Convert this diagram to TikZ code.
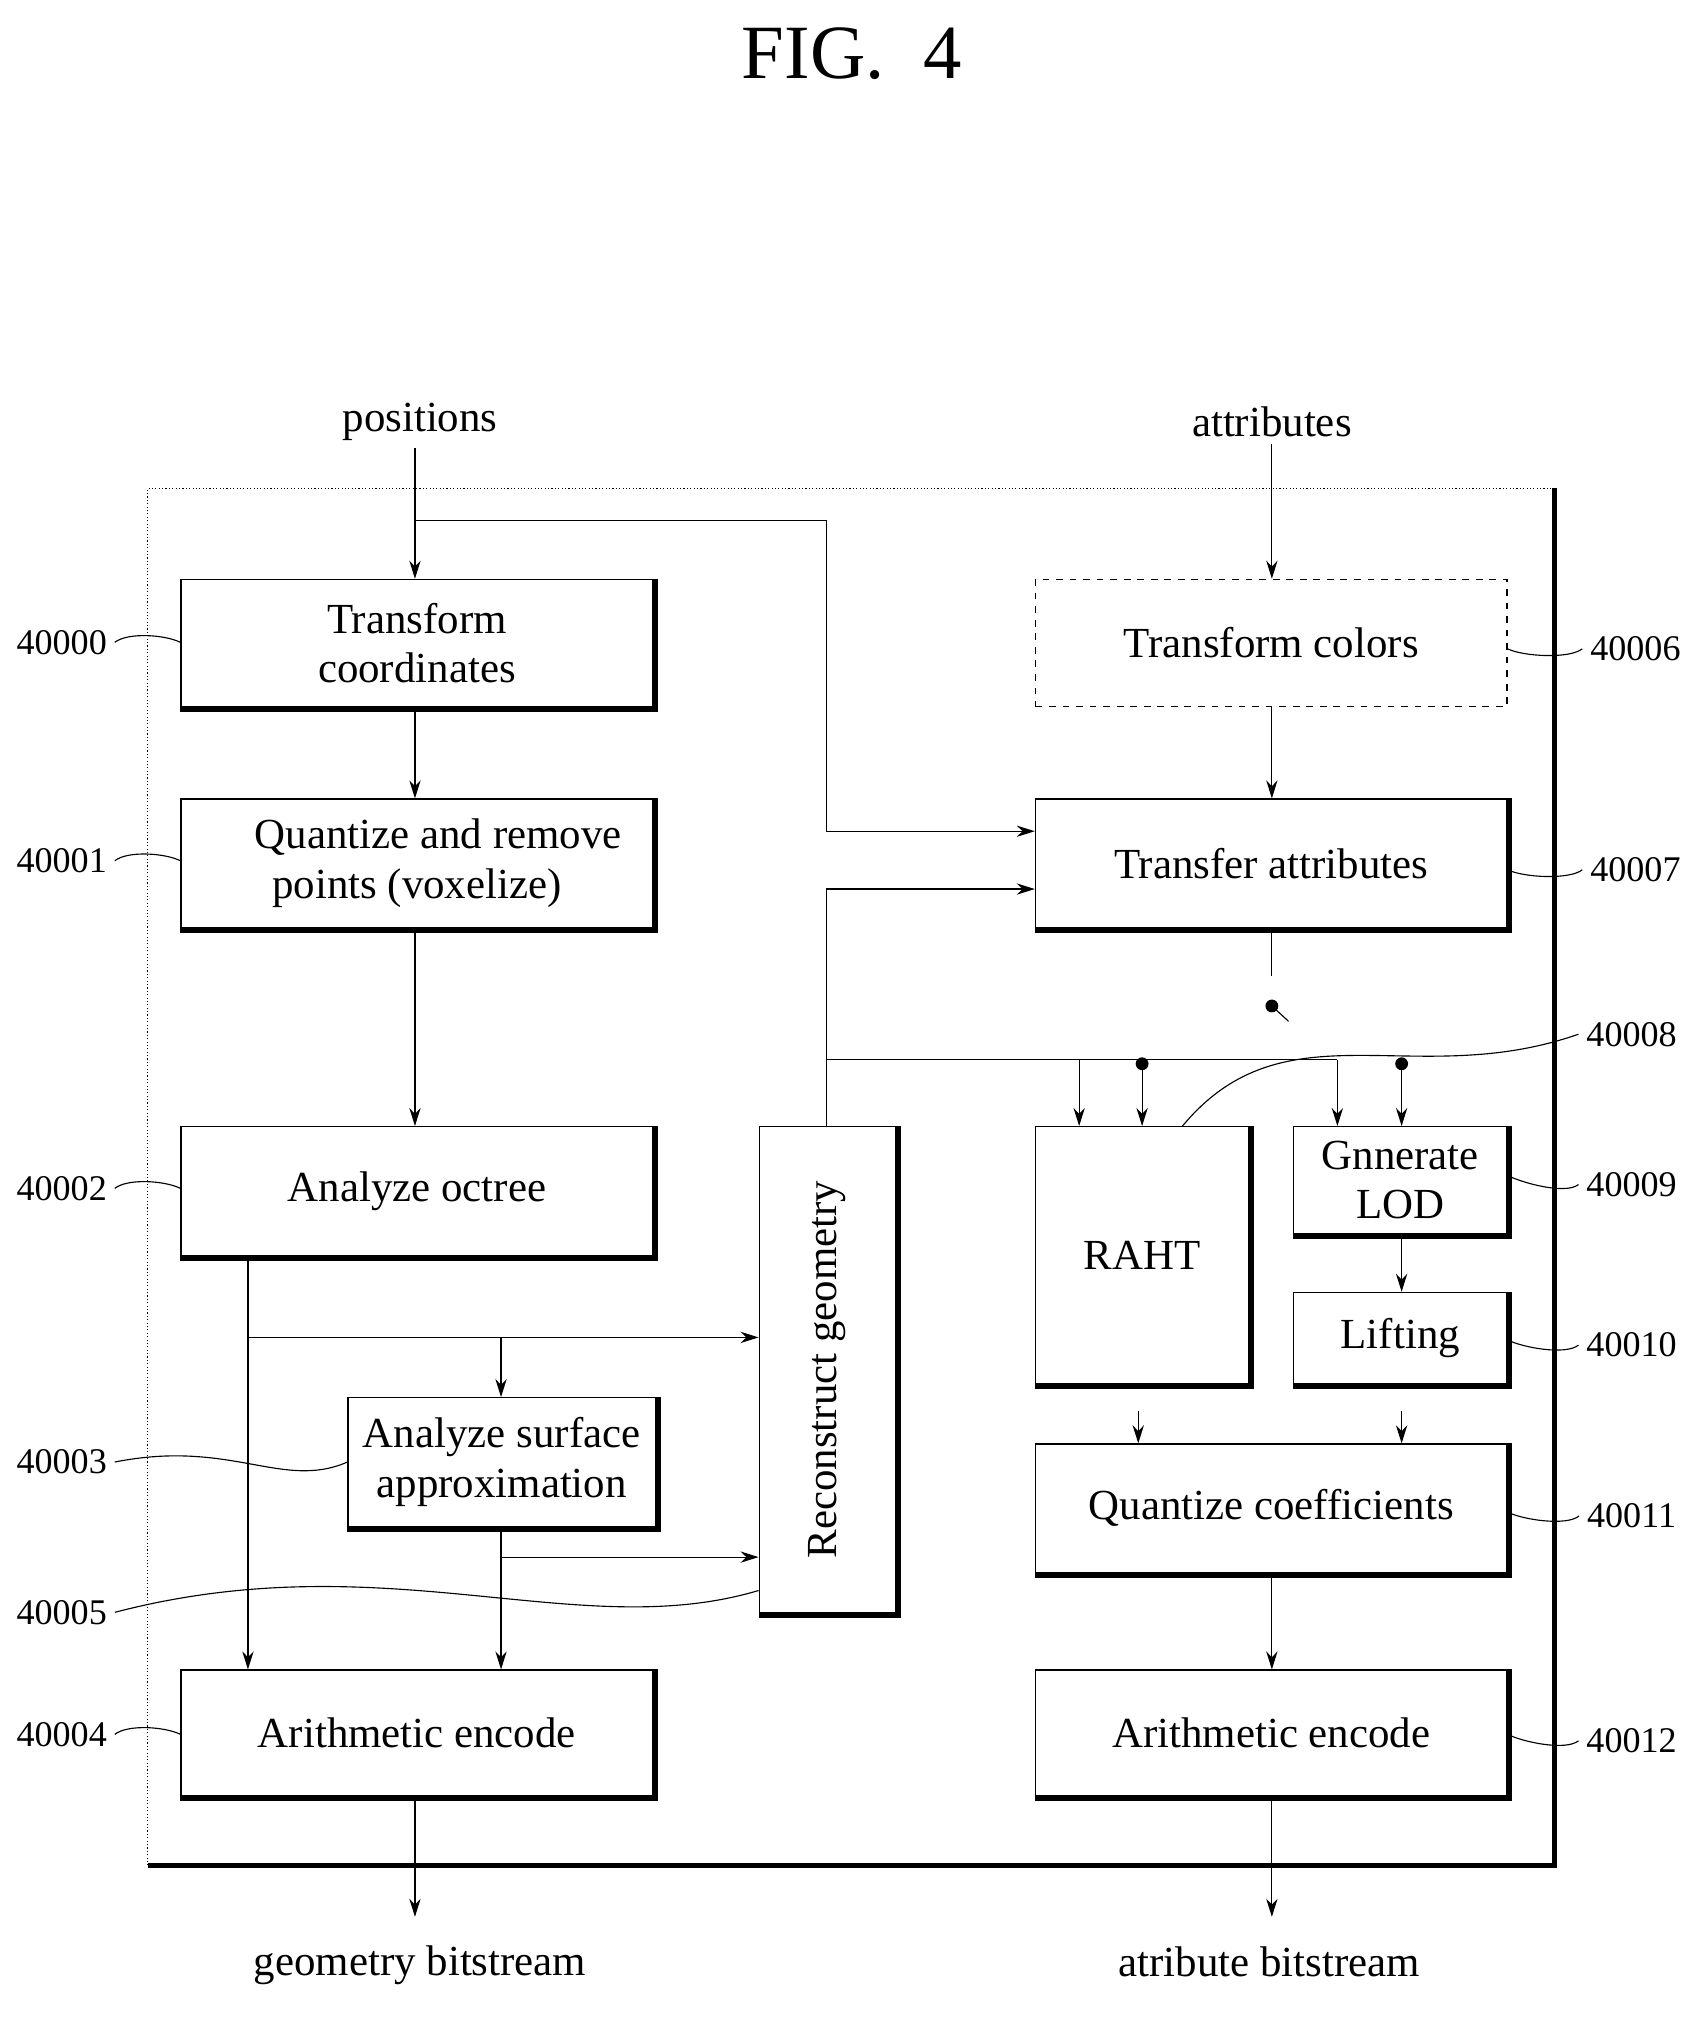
\documentclass[tikz,border=0pt]{standalone}
\usepackage{fontspec}
\setmainfont{Liberation Serif}
\usetikzlibrary{arrows.meta}
\begin{document}
\begin{tikzpicture}[x=0.02cm,y=-0.02cm,
  box/.style={draw,line width=0.6pt,inner sep=0pt,align=center,font=\fontsize{19}{22}\selectfont},
  ln/.style={line width=0.5pt},
  ar/.style={ln,-{Stealth[length=8pt,width=5pt]}},
  lab/.style={font=\fontsize{16}{19}\selectfont},
  io/.style={font=\fontsize{19}{22}\selectfont},
  sh/.style={line width=2.2pt}]
\useasboundingbox (0,0) rectangle (1323,1570);
\newcommand{\bx}[7][]{%
  \node[box,#1,minimum width={(#5-#3)*0.02cm},minimum height={(#6-#4)*0.02cm}] (#2) at ({(#3+#5)/2},{(#4+#6)/2}) {#7};
  \draw[sh] ([xshift=1pt]#2.north east) -- ([xshift=1pt,yshift=-1pt]#2.south east) -- ([yshift=-1pt]#2.south west);}
\node[font=\fontsize{34}{38}\selectfont] (title) at (663,42) {FIG.~~4};
% frame
\draw[ln,densely dotted] (115,1452) -- (115,380) -- (1210,380);
\draw[sh] (1210,380) -- (1210,1452) -- (115,1452);
% boxes
\bx{tc}{141}{451}{508}{550}{Transform\\coordinates}
\bx{qz}{141}{622}{508}{722}{\quad Quantize and remove\\points (voxelize)}
\bx{ao}{141}{877}{508}{977}{Analyze octree}
\bx{as}{271}{1088}{510}{1188}{Analyze surface\\approximation}
\bx{ael}{141}{1300}{508}{1398}{Arithmetic encode}
\bx{rg}{591}{877}{697}{1255}{}
\node[rotate=90,font=\fontsize{19}{22}\selectfont] (rgt) at (rg) {Reconstruct geometry};
\node[box,dashed,minimum width={367*0.02cm},minimum height={99*0.02cm}] (tcol) at (989.5,500.5) {Transform colors};
\bx{ta}{806}{622}{1173}{722}{Transfer attributes}
\bx{raht}{806}{877}{972}{1077}{RAHT}
\bx{lod}{1007}{877}{1173}{960}{Gnnerate\\LOD}
\bx{lift}{1007}{1006}{1173}{1077}{Lifting}
\bx{qc}{806}{1124}{1173}{1224}{Quantize coefficients}
\bx{aer}{806}{1300}{1173}{1398}{Arithmetic encode}
% io labels
\node[io] (pos) at (327,328) {positions};
\node[io] (att) at (990,328) {attributes};
\node[io] (gb) at (327,1530) {geometry bitstream};
\node[io] (ab) at (988,1527) {atribute bitstream};
% coordinates
\coordinate (p1) at (323,405);
\coordinate (p2) at (643,405);
\coordinate (p3) at (643,647);
\coordinate (a1) at (193,1041);
\coordinate (a2) at (390,1041);
\coordinate (s1) at (390,1212);
\coordinate (r1) at (643,692);
\coordinate (r2) at (643,825);
\coordinate (r3) at (840,825);
\coordinate (r4) at (1041,825);
\coordinate (sw) at (990,760);
\coordinate (sd) at (990,783);
\coordinate (se) at (1003,795);
\coordinate (d1) at (889,828);
\coordinate (d2) at (1091,828);
\coordinate (q1) at (886,1098);
\coordinate (q2) at (1091,1098);
% connectors
\draw[ar] (pos.south -| p1) -- (tc.north -| p1);
\draw[ar] (p1) -- (p2) -- (p3) -- (ta.west |- p3);
\draw[ar] (tc.south -| p1) -- (qz.north -| p1);
\draw[ar] (qz.south -| p1) -- (ao.north -| p1);
\draw[ar] (ao.south -| a1) -- (ael.north -| a1);
\draw[ar] (a1) -- (rg.west |- a1);
\draw[ar] (a2) -- (as.north -| a2);
\draw[ar] (as.south -| s1) -- (ael.north -| s1);
\draw[ar] (s1) -- (rg.west |- s1);
\draw[ar] (rg.north -| r1) -- (r1) -- (ta.west |- r1);
\draw[ln] (r2) -- (r4);
\draw[ar] (r3) -- (raht.north -| r3);
\draw[ar] (r4) -- (lod.north -| r4);
\draw[ar] (att.south) -- (tcol.north -| att);
\draw[ar] (tcol.south -| sw) -- (ta.north -| sw);
\draw[ln] (ta.south -| sw) -- (sw);
\fill (sd) circle (5);
\draw[ln] (sd) -- (se);
\fill (d1) circle (5); \fill (d2) circle (5);
\draw[ar] (d1) -- (raht.north -| d1);
\draw[ar] (d2) -- (lod.north -| d2);
\draw[ar] (lod.south -| d2) -- (lift.north -| d2);
\draw[ar] (q1) -- (qc.north -| q1);
\draw[ar] (q2) -- (qc.north -| q2);
\draw[ar] (qc.south -| sw) -- (aer.north -| sw);
\draw[ar] (ael.south -| p1) -- (323,1492);
\draw[ar] (aer.south -| sw) -- (990,1492);
% reference labels
\node[lab] (l0) at (48,500) {40000};
\node[lab] (l1) at (48,670) {40001};
\node[lab] (l2) at (48,925) {40002};
\node[lab] (l3) at (48,1138) {40003};
\node[lab] (l5) at (48,1255) {40005};
\node[lab] (l4) at (48,1350) {40004};
\node[lab] (l6) at (1273,505) {40006};
\node[lab] (l7) at (1273,677) {40007};
\node[lab] (l8) at (1270,805) {40008};
\node[lab] (l9) at (1270,922) {40009};
\node[lab] (l10) at (1270,1047) {40010};
\node[lab] (l11) at (1270,1180) {40011};
\node[lab] (l12) at (1270,1355) {40012};
\tikzset{tl/.style={ln}}
\foreach \l/\b/\y in {l0/tc/500,l1/qz/670,l2/ao/925,l4/ael/1350}
  \draw[tl] (\l.east) .. controls +(10,-8) and +(-12,-6) .. (\b.west |- 0,\y);
\foreach \l/\b/\y in {l6/tcol/505,l7/ta/677,l9/lod/915,l10/lift/1043,l11/qc/1177,l12/aer/1350}
  \draw[tl] (\l.west) .. controls +(-10,8) and +(12,6) .. (\b.east |- 0,\y);
\draw[tl] (l3.east) .. controls (180,1120) and (220,1160) .. (as.west |- 0,1138);
\draw[tl] (l5.east) .. controls (300,1200) and (450,1280) .. (rg.west |- 0,1238);
\draw[tl] (l8.west) .. controls (1100,850) and (1000,780) .. (920,877);
\end{tikzpicture}
\end{document}
